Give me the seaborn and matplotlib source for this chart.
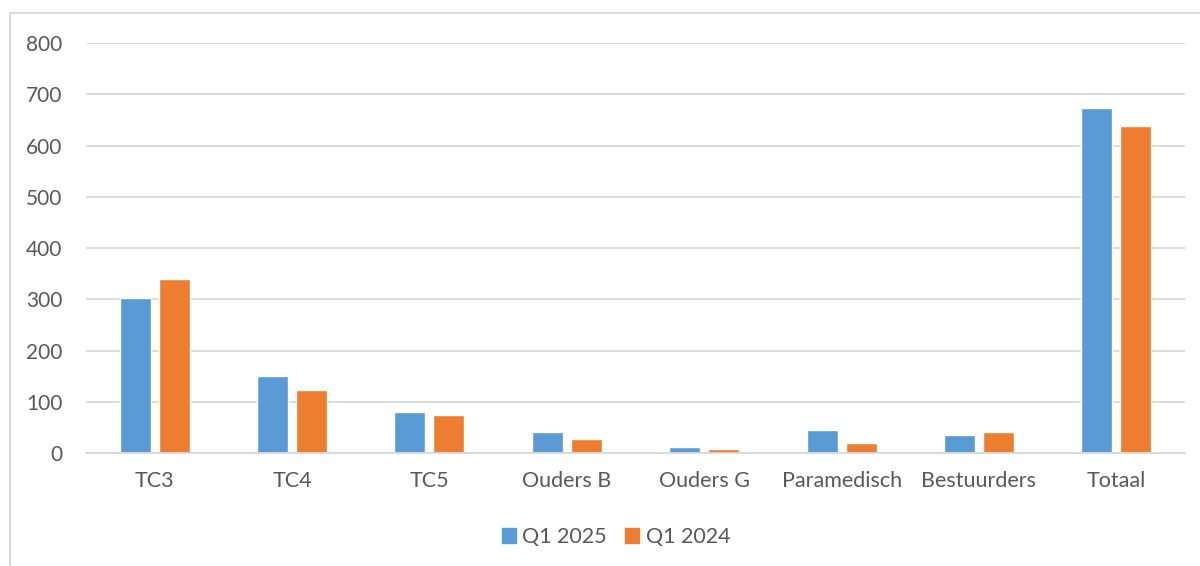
import pandas as pd
import matplotlib.pyplot as plt
import matplotlib.patches as mpatches
import seaborn as sns

# ── Data ─────────────────────────────────────────────────────────────────────
categories = ["TC3", "TC4", "TC5", "Ouders B", "Ouders G", "Paramedisch", "Bestuurders", "Totaal"]
q1_2025 = [303, 150, 81, 42, 12, 44, 36, 673]
q1_2024 = [339, 123, 74, 28, 7, 20, 42, 638]
series = ["Q1 2025", "Q1 2024"]
y_ticks = [0, 100, 200, 300, 400, 500, 600, 700, 800]

df = pd.DataFrame({
    "category": categories * 2,
    "value": q1_2025 + q1_2024,
    "series": [series[0]] * len(categories) + [series[1]] * len(categories),
})

sns.set_style("white")
plt.rcParams["font.family"] = ["Lato", "DejaVu Sans"]

TEXT = "#595959"
GRID = "#D9D9D9"
colors = {"Q1 2025": "#5B9BD5", "Q1 2024": "#ED7D31"}

fig = plt.figure(figsize=(12, 5.66), dpi=100)
ax = fig.add_axes([0.0717, 0.1996, 0.9158, 0.7244])

sns.barplot(data=df, x="category", y="value", hue="series", order=categories,
            hue_order=series, palette=colors, width=0.568, gap=0.205,
            saturation=1, ax=ax, legend=False)

ax.set_ylim(0, 800)
ax.set_xlim(-0.5, len(categories) - 0.5)
ax.set_yticks(y_ticks)
ax.yaxis.grid(True, color=GRID, linewidth=1.3)
ax.set_axisbelow(True)
ax.set_xlabel("")
ax.set_ylabel("")
for side in ["top", "right", "left"]:
    ax.spines[side].set_visible(False)
ax.spines["bottom"].set_color(GRID)
ax.spines["bottom"].set_linewidth(1.3)
ax.tick_params(axis="y", length=0, pad=17, labelsize=15, labelcolor=TEXT)
ax.tick_params(axis="x", length=0, pad=13, labelsize=15.5, labelcolor=TEXT)

# legend
handles = [mpatches.Patch(color=colors[s], label=s) for s in series]
fig.legend(handles=handles, loc="center", bbox_to_anchor=(616 / 1200, 1 - 537 / 566),
           ncol=2, frameon=False, fontsize=15.5, labelcolor=TEXT,
           handlelength=0.65, handleheight=0.65, handletextpad=0.3, columnspacing=0.85)

# chart border (cut off at right and bottom)
fig.patches.append(mpatches.Rectangle((10 / 1200, -0.05), 1.2, 1 - 13 / 566 + 0.05,
                                      transform=fig.transFigure, fill=False,
                                      edgecolor=GRID, linewidth=1.3))

fig.savefig("out.png", dpi=100)
